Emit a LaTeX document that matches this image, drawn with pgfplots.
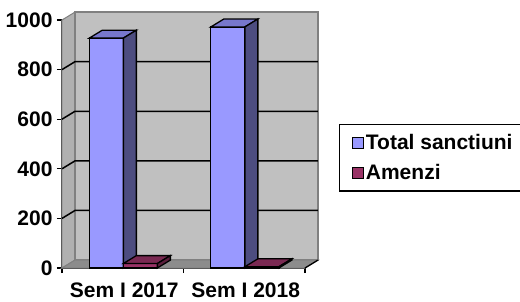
\documentclass[border=0pt]{standalone}
\usepackage{pgfplots}
\pgfplotsset{compat=1.18}
\usepackage{fontspec}
\setmainfont{Liberation Sans}
\definecolor{blueF}{HTML}{9999FF}
\definecolor{blueT}{HTML}{7777CC}
\definecolor{blueS}{HTML}{4D4D80}
\definecolor{redF}{HTML}{993366}
\definecolor{redT}{HTML}{7A2952}
\definecolor{redS}{HTML}{5C1F3D}
\definecolor{wall}{HTML}{C0C0C0}
\definecolor{lwall}{HTML}{B0B0B0}
\definecolor{floorc}{HTML}{8C8C8C}
\definecolor{edge}{HTML}{808080}
\newcommand{\lf}{\bfseries\fontsize{21}{25}\selectfont}
\begin{document}
\begin{tikzpicture}
\begin{axis}[
  scale only axis, width=243pt, height=248pt,
  xmin=-0.5, xmax=1.5, ymin=0, ymax=1000,
  clip=false,
  axis x line=bottom, axis y line=left,
  axis line style={-, black, line width=1.3pt},
  xtick={0,1}, xticklabels={Sem I 2017, Sem I 2018},
  major x tick style={draw=none},
  minor xtick={-0.5,0.5,1.5},
  minor tick length=5pt, major tick length=5pt,
  tick align=outside,
  tick style={black, line width=1.3pt},
  ytick={0,200,...,1000},
  tick label style={font=\lf},
  /pgf/number format/assume math mode=true,
  /pgf/number format/1000 sep={},
  xticklabel style={yshift=-6pt, xshift=1.5pt},
  yticklabel style={xshift=-1pt},
  legend style={at={(1.14,0.581)}, anchor=north west, draw=black,
    line width=1.3pt, font=\lf, row sep=9pt, inner sep=8pt,
    /tikz/every odd column/.append style={column sep=0pt}},
  legend cell align=left,
  legend image code/.code={\path (0pt,0pt); \draw[#1, line width=1.2pt] (4pt,-5.5pt) rectangle (15pt,5.5pt);},
]
% walls and floor
\addplot[forget plot, fill=lwall, draw=edge, line width=1pt] coordinates {(-0.5,0) (-0.393,32) (-0.393,1032) (-0.5,1000)} -- cycle;
\addplot[forget plot, fill=wall, draw=edge, line width=1.3pt] coordinates {(-0.393,32) (1.607,32) (1.607,1032) (-0.393,1032)} -- cycle;
\addplot[forget plot, fill=floorc, draw=edge, line width=1pt] coordinates {(-0.5,0) (1.5,0) (1.607,32) (-0.393,32)} -- cycle;
% gridlines
\addplot[forget plot, black, line width=1.5pt] coordinates {(-0.5,200) (-0.393,232) (1.607,232)};
\addplot[forget plot, black, line width=1.5pt] coordinates {(-0.5,400) (-0.393,432) (1.607,432)};
\addplot[forget plot, black, line width=1.5pt] coordinates {(-0.5,600) (-0.393,632) (1.607,632)};
\addplot[forget plot, black, line width=1.5pt] coordinates {(-0.5,800) (-0.393,832) (1.607,832)};
\addplot[forget plot, black, line width=1.3pt] coordinates {(1.5,0) (1.607,32)};
% Total sanctiuni
\addplot[ybar, bar width=0.28, bar shift=-0.135, fill=blueF, draw=black, line width=1.3pt] coordinates {(0,927) (1,972)};
\addlegendentry{\makebox[175pt][l]{Total sanctiuni}}
\addplot[forget plot, fill=blueT, draw=black, line width=1.3pt] coordinates {(-0.275,927) (-0.168,959) (0.112,959) (0.005,927)} -- cycle;
\addplot[forget plot, fill=blueS, draw=black, line width=1.3pt] coordinates {(0.005,0) (0.112,32) (0.112,959) (0.005,927)} -- cycle;
\addplot[forget plot, fill=blueT, draw=black, line width=1.3pt] coordinates {(0.725,972) (0.832,1004) (1.112,1004) (1.005,972)} -- cycle;
\addplot[forget plot, fill=blueS, draw=black, line width=1.3pt] coordinates {(1.005,0) (1.112,32) (1.112,1004) (1.005,972)} -- cycle;
% Amenzi
\addplot[ybar, bar width=0.28, bar shift=0.145, fill=redF, draw=black, line width=1.3pt] coordinates {(0,18) (1,5)};
\addlegendentry{Amenzi}
\addplot[forget plot, fill=redT, draw=black, line width=1.3pt] coordinates {(0.005,18) (0.112,50) (0.392,50) (0.285,18)} -- cycle;
\addplot[forget plot, fill=redS, draw=black, line width=1.3pt] coordinates {(0.285,0) (0.392,32) (0.392,50) (0.285,18)} -- cycle;
\addplot[forget plot, fill=redT, draw=black, line width=1.3pt] coordinates {(1.005,5) (1.112,37) (1.392,37) (1.285,5)} -- cycle;
\addplot[forget plot, fill=redS, draw=black, line width=1.3pt] coordinates {(1.285,0) (1.392,32) (1.392,37) (1.285,5)} -- cycle;
\end{axis}
\pgfresetboundingbox
\path[use as bounding box] ([shift={(-62pt,-33pt)}]current axis.south west) rectangle ([shift={(458pt,268pt)}]current axis.south west);
\end{tikzpicture}
\end{document}
